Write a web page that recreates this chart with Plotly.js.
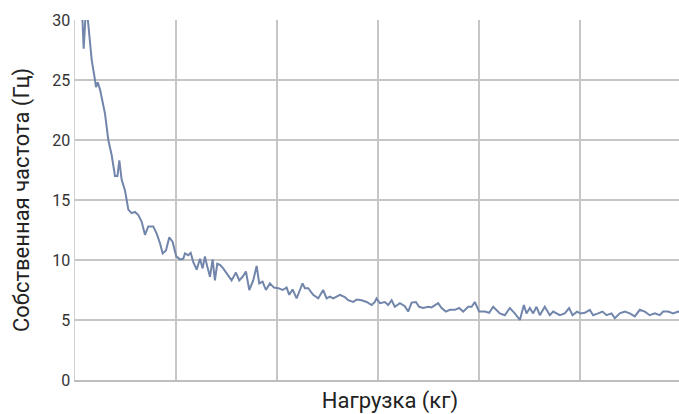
<!DOCTYPE html>
<html>
<head>
<meta charset="utf-8">
<script src="https://cdn.plot.ly/plotly-3.0.1.min.js"></script>
<style>
html, body { margin: 0; padding: 0; overflow: hidden; background: #fff; }
#chart { width: 705px; height: 414px; }
</style>
</head>
<body>
<div id="chart"></div>
<script>
// Нагрузка (кг) — load, in gridline units
const load = [
  0.040, 0.069, 0.086, 0.109, 0.122, 0.165, 0.198, 0.208, 0.225, 0.248,
  0.297, 0.330, 0.363, 0.396, 0.421, 0.439, 0.462, 0.495, 0.512, 0.528,
  0.561, 0.594, 0.627, 0.660, 0.693, 0.726, 0.775, 0.809, 0.842, 0.868,
  0.901, 0.934, 0.967, 1.003, 1.040, 1.072, 1.089, 1.122, 1.146, 1.171,
  1.205, 1.238, 1.264, 1.287, 1.310, 1.337, 1.363, 1.386, 1.409, 1.436,
  1.468, 1.518, 1.551, 1.594, 1.627, 1.660, 1.693, 1.726, 1.765, 1.799,
  1.825, 1.858, 1.891, 1.931, 1.970, 2.013, 2.056, 2.096, 2.122, 2.155,
  2.195, 2.228, 2.254, 2.277, 2.310, 2.359, 2.409, 2.458, 2.492, 2.525,
  2.557, 2.591, 2.624, 2.673, 2.706, 2.755, 2.789, 2.839, 2.888, 2.938,
  2.970, 2.987, 3.020, 3.069, 3.102, 3.136, 3.168, 3.218, 3.267, 3.300,
  3.334, 3.376, 3.409, 3.449, 3.498, 3.532, 3.564, 3.597, 3.631, 3.673,
  3.713, 3.762, 3.805, 3.845, 3.894, 3.928, 3.960, 3.983, 4.003, 4.059,
  4.102, 4.142, 4.175, 4.208, 4.257, 4.307, 4.356, 4.406, 4.446, 4.472,
  4.505, 4.538, 4.571, 4.604, 4.653, 4.703, 4.736, 4.769, 4.802, 4.851,
  4.894, 4.928, 4.973, 5.007, 5.050, 5.099, 5.132, 5.181, 5.225, 5.264,
  5.314, 5.347, 5.396, 5.446, 5.495, 5.545, 5.594, 5.644, 5.693, 5.743,
  5.792, 5.825, 5.874, 5.924, 5.974, 6.050, 6.150, 6.240
];
// Собственная частота (Гц)
const freq = [
  34.0, 31.0, 27.6, 31.0, 30.5, 26.7, 25.0, 24.4, 24.8, 24.2,
  22.2, 20.0, 18.75, 17.0, 17.0, 18.3, 16.7, 15.8, 15.0, 14.2,
  13.9, 14.0, 13.75, 13.2, 12.1, 12.8, 12.8, 12.2, 11.4, 10.55,
  10.8, 11.9, 11.5, 10.3, 10.05, 10.1, 10.55, 10.4, 10.6, 9.85,
  9.2, 10.1, 9.3, 10.3, 9.45, 8.6, 10.05, 8.3, 9.7, 9.6,
  9.3, 8.75, 8.3, 8.95, 8.3, 8.6, 9.05, 7.5, 8.3, 9.5,
  8.05, 8.2, 7.5, 8.05, 7.7, 7.65, 7.5, 7.7, 7.1, 7.55,
  6.8, 7.5, 8.05, 7.65, 7.65, 7.1, 6.8, 7.5, 6.8, 6.95,
  6.8, 6.95, 7.1, 6.9, 6.65, 6.5, 6.7, 6.65, 6.5, 6.25,
  6.5, 6.8, 6.4, 6.5, 6.25, 6.65, 6.1, 6.4, 6.15, 5.7,
  6.45, 6.5, 6.1, 6.0, 6.1, 6.05, 6.25, 6.4, 6.0, 5.7,
  5.85, 5.85, 6.0, 5.7, 6.1, 6.1, 6.5, 6.1, 5.7, 5.7,
  5.6, 6.1, 5.85, 5.55, 5.4, 6.0, 5.55, 5.0, 6.25, 5.55,
  6.0, 5.55, 6.1, 5.4, 6.1, 5.4, 5.7, 5.55, 5.4, 5.55,
  6.0, 5.4, 5.7, 5.55, 5.6, 5.85, 5.4, 5.55, 5.7, 5.4,
  5.55, 5.15, 5.55, 5.7, 5.55, 5.3, 5.85, 5.7, 5.4, 5.55,
  5.4, 5.7, 5.7, 5.55, 5.7, 5.5, 5.65, 5.5
];
const yTicks = [0, 5, 10, 15, 20, 25, 30];
const xTitle = 'Нагрузка (кг)';
const yTitle = 'Собственная частота (Гц)';

const trace = {
  x: load, y: freq, type: 'scatter', mode: 'lines',
  line: { color: '#7285ab', width: 2, shape: 'linear' },
  hoverinfo: 'skip'
};

const layout = {
  width: 705, height: 414,
  margin: { l: 75, r: 0, t: 20, b: 34, pad: 0 },
  paper_bgcolor: '#ffffff', plot_bgcolor: '#ffffff',
  font: { family: 'Roboto, "Noto Sans", sans-serif', color: '#333333' },
  showlegend: false,
  xaxis: {
    range: [0, 6.24], dtick: 1, tick0: 0,
    showticklabels: false, ticks: '',
    showgrid: true, gridcolor: '#c6c6c6', gridwidth: 2,
    zeroline: false, showline: true, linecolor: '#bdbdbd', linewidth: 2,
    title: { text: xTitle, font: { size: 22, color: '#222222' }, standoff: 13 },
    automargin: false
  },
  yaxis: {
    range: [0, 30], tickvals: yTicks, ticktext: yTicks.map(String),
    ticks: '', tickfont: { size: 16, color: '#333333' },
    showgrid: true, gridcolor: '#c6c6c6', gridwidth: 2,
    zeroline: false, showline: true, linecolor: '#d0d0d0', linewidth: 1.5,
    title: { text: yTitle, font: { size: 22, color: '#222222' }, standoff: 16 },
    automargin: false
  }
};

Plotly.newPlot('chart', [trace], layout, { displayModeBar: false, staticPlot: true });
</script>
</body>
</html>
